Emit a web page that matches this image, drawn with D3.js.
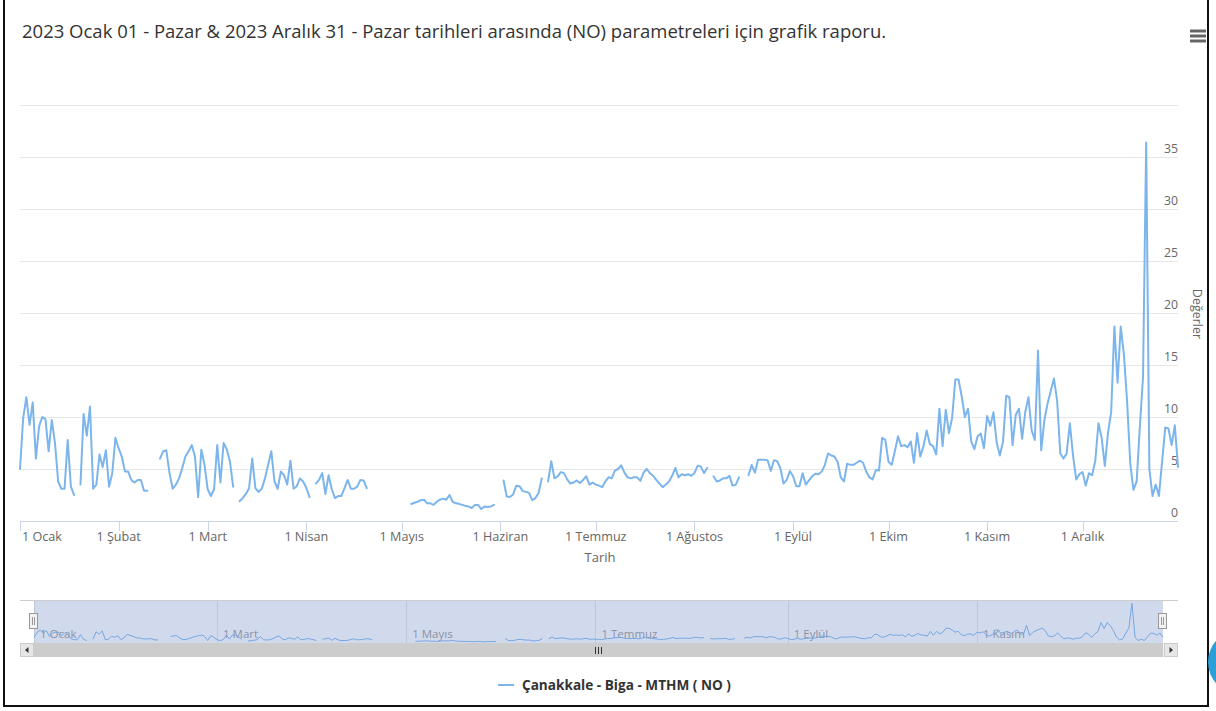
<!DOCTYPE html>
<html><head><meta charset="utf-8">
<script src="https://cdn.jsdelivr.net/npm/d3@7"></script>
<style>body{margin:0;background:#fff;overflow:hidden;} svg{display:block;font-family:"Open Sans","Noto Sans",sans-serif;}</style>
</head><body><svg id="c" width="1216" height="711"></svg>
<script>
const titleText = "2023 Ocak 01 - Pazar & 2023 Aralık 31 - Pazar tarihleri arasında (NO) parametreleri için grafik raporu.";
const seriesName = "Çanakkale - Biga - MTHM ( NO )";
const xTitle = "Tarih";
const yTitle = "Değerler";
const monthLabels = ["1 Ocak","1 Şubat","1 Mart","1 Nisan","1 Mayıs","1 Haziran","1 Temmuz","1 Ağustos","1 Eylül","1 Ekim","1 Kasım","1 Aralık"];
const navLabels = ["1 Ocak","1 Mart","1 Mayıs","1 Temmuz","1 Eylül","1 Kasım"];
const yTicks = [0,5,10,15,20,25,30,35];
const yGrid = [0,5,10,15,20,25,30,35,40];

// daily NO values per month (null = no data)
const jan = [5.0,9.9,11.9,9.25,11.4,6.0,9.1,10.0,9.8,6.7,9.7,7.5,3.8,3.1,3.1,7.8,3.3,2.5,null,3.5,10.3,8.2,11.0,3.1,3.5,6.4,5.2,6.8,3.3,4.6,8.0];
const feb = [7.0,6.2,4.75,4.75,3.95,3.7,3.95,3.95,2.9,2.9,null,null,null,6.0,6.7,6.8,4.6,3.1,3.5,4.1,5.1,6.2,6.7,7.3,6.2,2.3,6.85,5.4];
const mar = [3.05,2.4,3.05,7.3,3.7,7.5,6.9,5.7,3.3,null,1.9,2.2,2.6,3.15,6.0,3.15,2.8,3.1,4.1,5.4,6.7,3.8,3.1,4.75,4.4,3.5,5.8,3.1,3.35,4.1,3.8];
const apr = [3.2,2.3,null,3.6,3.95,4.6,2.6,4.4,3.05,2.2,2.4,2.4,3.15,3.95,3.1,3.1,3.3,3.95,3.9,3.15,null,null,null,null,null,null,null,null,null,null];
const may = [null,null,null,1.64,1.75,1.85,2.0,2.05,1.7,1.7,1.55,1.85,2.05,2.15,2.05,2.5,1.85,1.7,1.65,1.55,1.45,1.4,1.25,1.55,1.55,1.15,1.4,1.35,1.4,1.55,null];
const jun = [null,3.9,2.35,2.3,2.55,3.4,3.35,2.9,2.8,2.7,2.0,2.2,2.7,4.1,null,3.8,5.75,4.1,4.3,4.7,4.6,4.0,3.6,3.7,3.9,3.65,3.95,4.3,3.5,3.7];
const jul = [3.5,3.4,3.25,3.8,4.2,4.1,4.85,5.0,5.35,4.65,4.2,4.1,4.2,4.2,3.85,4.65,5.0,4.6,4.35,3.95,3.6,3.25,3.5,3.8,4.35,5.1,4.2,4.5,4.4,4.5,4.35];
const aug = [4.6,5.3,5.25,4.6,5.1,null,4.3,3.8,3.9,4.1,4.1,4.35,3.4,3.5,4.2,null,null,4.4,5.4,4.65,5.9,5.9,5.9,5.85,4.8,5.85,5.75,5.1,3.6,3.95,4.8];
const sep = [4.3,3.35,3.35,4.6,3.5,3.9,4.3,4.55,4.5,4.75,5.4,6.5,6.3,6.2,5.7,4.2,3.8,5.5,5.4,5.4,5.6,5.8,5.6,4.75,4.2,4.0,4.9,4.85,8.0,7.8];
const oct = [5.7,5.4,6.7,8.15,7.2,7.3,7.1,7.65,5.6,8.45,6.2,7.2,8.7,7.4,7.2,6.4,10.8,7.2,10.7,8.45,9.9,13.6,13.6,12.0,10.0,10.8,7.65,6.9,8.15,8.4,7.0];
const nov = [10.1,9.15,10.45,7.55,6.3,7.65,12.05,11.9,7.3,10.2,10.8,7.9,10.5,11.9,8.7,7.8,16.4,6.8,9.7,11.3,12.5,13.7,11.6,6.5,6.0,6.5,9.4,6.3,4.0,4.5];
const dec = [4.7,3.4,4.6,4.4,5.8,9.4,8.0,5.3,8.5,10.5,18.7,13.3,18.7,16.0,11.5,5.5,3.0,3.8,9.0,13.8,36.4,5.0,2.4,3.5,2.4,5.7,9.0,8.9,7.3,9.2,5.2];

const values = [].concat(jan,feb,mar,apr,may,jun,jul,aug,sep,oct,nov,dec);
const data = values.map((v,i)=>({d:new Date(Date.UTC(2023,0,1+i)), v}));

const svg = d3.select("#c");
const blue = "#7cb5ec";
const start = new Date(Date.UTC(2023,0,1)), end = new Date(Date.UTC(2023,11,31));

function fit(sel, width, base){
  sel.style("font-size", base+"px");
  const w = sel.node().getComputedTextLength();
  sel.style("font-size", (base*width/w).toFixed(2)+"px");
}

// frame
svg.append("rect").attr("x",4).attr("y",-2).attr("width",1204).attr("height",708)
  .attr("fill","none").attr("stroke","#111").attr("stroke-width",2);

// title
const t = svg.append("text").attr("x",22).attr("y",38).attr("fill","#333").text(titleText);
fit(t, 864, 16);

// menu icon
[31,36,41].forEach(yy=>svg.append("line").attr("x1",1190).attr("x2",1206).attr("y1",yy).attr("y2",yy)
  .attr("stroke","#666").attr("stroke-width",3));

// scales
const x = d3.scaleUtc().domain([start,end]).range([20,1178]);
const y = d3.scaleLinear().domain([0,40]).range([521,105]);

// grid
svg.append("g").selectAll("line").data(yGrid).join("line")
  .attr("x1",20).attr("x2",1178).attr("y1",d=>Math.round(y(d))+0.5).attr("y2",d=>Math.round(y(d))+0.5)
  .attr("stroke","#e6e6e6");

// y labels (right, inside)
svg.append("g").selectAll("text").data(yTicks).join("text")
  .attr("x",1178).attr("y",d=>y(d)-4).attr("text-anchor","end")
  .attr("fill","#666").style("font-size","12.3px").text(d=>d);

svg.append("text").attr("transform","translate(1193,314) rotate(90)").attr("text-anchor","middle")
  .attr("fill","#666").style("font-size","12.5px").text(yTitle);

// x axis
const months = d3.utcMonth.range(start, new Date(Date.UTC(2024,0,1)));
svg.append("line").attr("x1",20).attr("x2",1178).attr("y1",521.5).attr("y2",521.5).attr("stroke","#ccd6eb");
const xt = svg.append("g");
xt.selectAll("line").data(months).join("line")
  .attr("x1",d=>Math.round(x(d))+0.5).attr("x2",d=>Math.round(x(d))+0.5).attr("y1",521).attr("y2",531)
  .attr("stroke","#ccd6eb");
xt.selectAll("text").data(months).join("text")
  .attr("y",541).attr("fill","#666").style("font-size","12.6px")
  .text((d,i)=>monthLabels[i])
  .each(function(d){
    const w = this.getComputedTextLength();
    let lx = x(d) - w/2;
    if (lx < 22) lx = 22;
    d3.select(this).attr("x", lx);
  });
svg.append("text").attr("x",600).attr("y",562).attr("text-anchor","middle").attr("fill","#666")
  .style("font-size","13px").text(xTitle);

// series
const line = d3.line().defined(d=>d.v!=null).x(d=>x(d.d)).y(d=>y(d.v));
svg.append("path").datum(data).attr("d",line).attr("fill","none").attr("stroke",blue)
  .attr("stroke-width",2).attr("stroke-linejoin","round").attr("stroke-linecap","round");

// navigator
const navTop = 601, navBot = 643;
const xn = d3.scaleUtc().domain([start,end]).range([34,1163]);
const vals = values.filter(v=>v!=null);
const vmin = d3.min(vals), vmax = d3.max(vals), pad = (vmax-vmin)*0.06;
const yn = d3.scaleLinear().domain([vmin-pad*0.5, vmax+pad]).range([navBot, navTop]);
svg.append("line").attr("x1",20).attr("x2",1178).attr("y1",navTop-0.5).attr("y2",navTop-0.5).attr("stroke","#ccc");
const navMonths = months.filter((d,i)=>i%2===0);
svg.append("g").selectAll("line").data(navMonths).join("line")
  .attr("x1",d=>Math.round(xn(d))+0.5).attr("x2",d=>Math.round(xn(d))+0.5).attr("y1",navTop).attr("y2",navBot)
  .attr("stroke","#e6e6e6");
svg.append("g").selectAll("text").data(navMonths).join("text")
  .attr("x",d=>xn(d)+6).attr("y",638).attr("fill","#999").style("font-size","11.5px")
  .text((d,i)=>navLabels[i]);
const nline = d3.line().defined(d=>d.v!=null).x(d=>xn(d.d)).y(d=>yn(d.v));
svg.append("path").datum(data).attr("d",nline).attr("fill","none").attr("stroke",blue).attr("stroke-width",1);
svg.append("rect").attr("x",34).attr("y",navTop).attr("width",1163-34).attr("height",navBot-navTop)
  .attr("fill","rgba(102,133,194,0.3)");
// handles
[34,1163].forEach(hx=>{
  const g = svg.append("g").attr("transform",`translate(${hx},613)`);
  g.append("rect").attr("x",-4.5).attr("y",0.5).attr("width",8).attr("height",15).attr("fill","#f2f2f2").attr("stroke","#999");
  g.append("line").attr("x1",-1.5).attr("x2",-1.5).attr("y1",4).attr("y2",12).attr("stroke","#999");
  g.append("line").attr("x1",0.5).attr("x2",0.5).attr("y1",4).attr("y2",12).attr("stroke","#999");
});
// scrollbar
svg.append("rect").attr("x",20).attr("y",643).attr("width",1158).attr("height",14).attr("fill","#f2f2f2");
svg.append("rect").attr("x",34).attr("y",643).attr("width",1129).attr("height",14).attr("fill","#cccccc");
[[20,"l"],[1164,"r"]].forEach(([bx,dir])=>{
  svg.append("rect").attr("x",bx+0.5).attr("y",643.5).attr("width",13).attr("height",13).attr("fill","#e6e6e6").attr("stroke","#ccc");
  const cx = bx+7, cy = 650;
  const p = dir==="l" ? `M${cx+1.5},${cy-3}L${cx-2},${cy}L${cx+1.5},${cy+3}Z` : `M${cx-1.5},${cy-3}L${cx+2},${cy}L${cx-1.5},${cy+3}Z`;
  svg.append("path").attr("d",p).attr("fill","#333");
});
[-3,0,3].forEach(o=>svg.append("line").attr("x1",598.5+o).attr("x2",598.5+o).attr("y1",647).attr("y2",654).attr("stroke","#333"));

// legend
svg.append("line").attr("x1",498).attr("x2",514).attr("y1",685).attr("y2",685).attr("stroke",blue).attr("stroke-width",2);
const lg = svg.append("text").attr("x",522).attr("y",689.5).attr("fill","#333").style("font-weight","bold").text(seriesName);
fit(lg, 209, 12);

// blue widget circle at right edge
svg.append("circle").attr("cx",1240).attr("cy",662).attr("r",32).attr("fill","#2a9fd8");
</script></body></html>
